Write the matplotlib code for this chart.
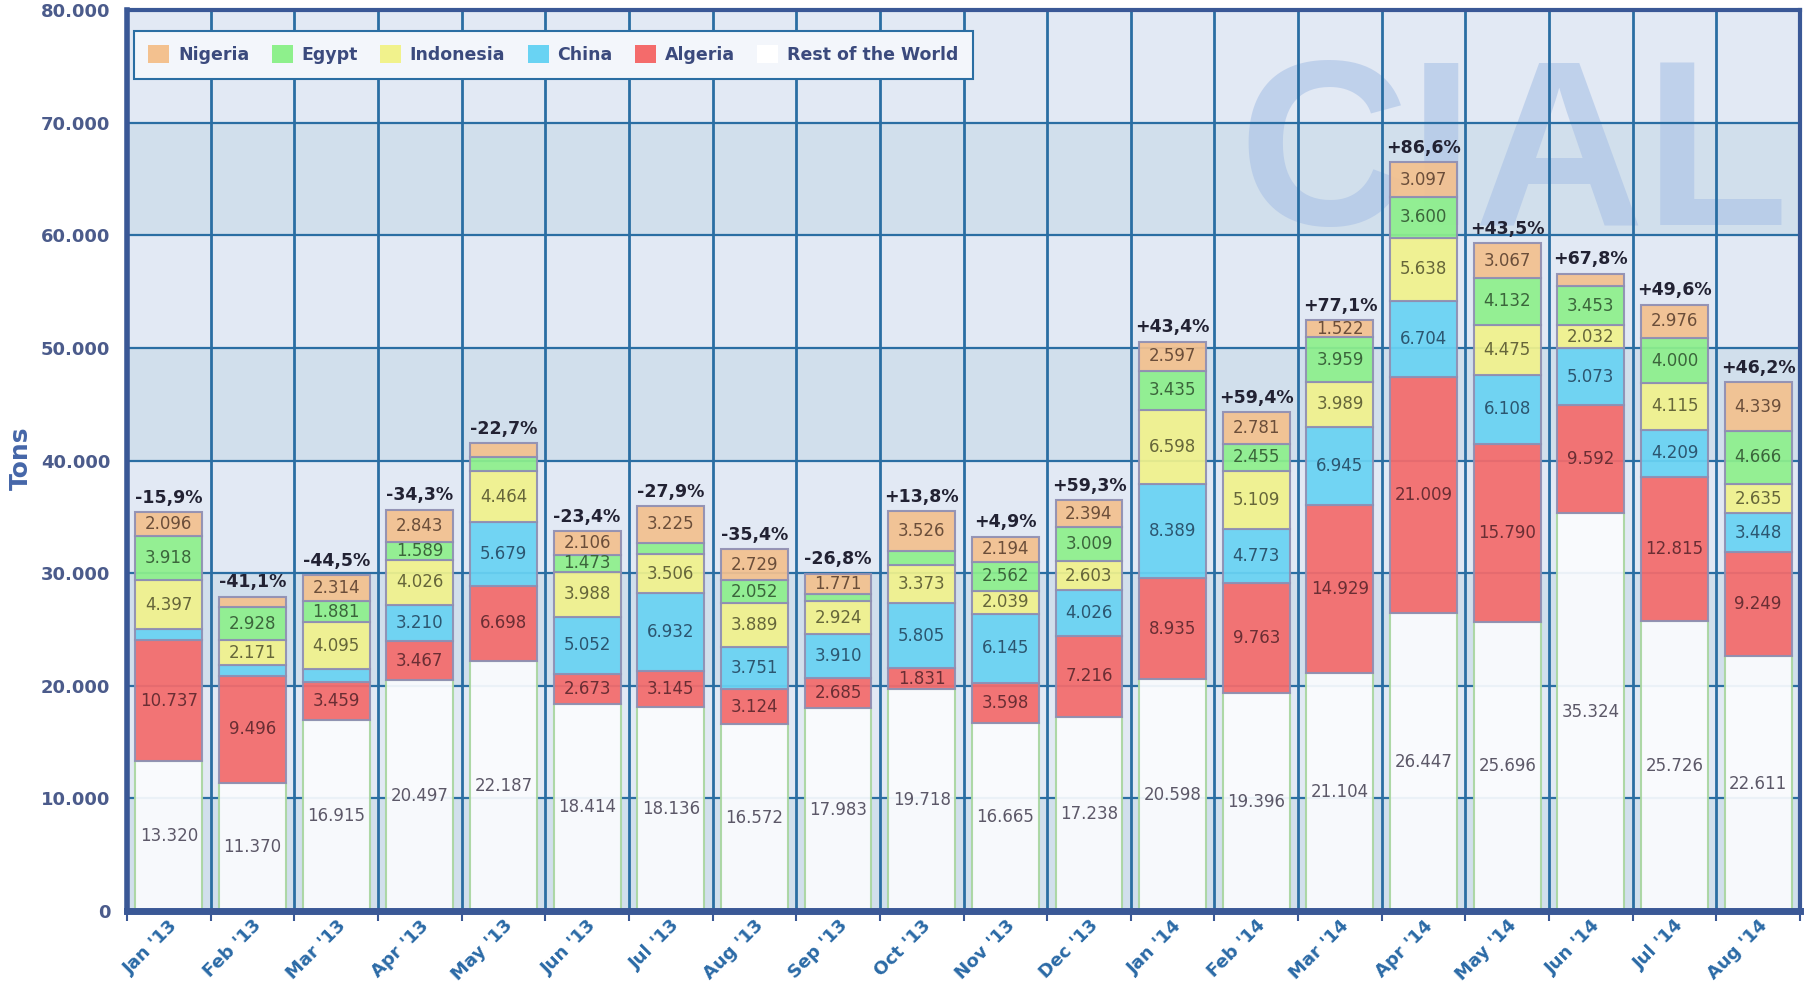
import numpy as np
import matplotlib.pyplot as plt
from matplotlib.patches import Patch
from matplotlib.ticker import FuncFormatter

months = ["Jan '13", "Feb '13", "Mar '13", "Apr '13", "May '13", "Jun '13", "Jul '13",
          "Aug '13", "Sep '13", "Oct '13", "Nov '13", "Dec '13", "Jan '14", "Feb '14",
          "Mar '14", "Apr '14", "May '14", "Jun '14", "Jul '14", "Aug '14"]

rest = [13320, 11370, 16915, 20497, 22187, 18414, 18136, 16572, 17983, 19718,
        16665, 17238, 20598, 19396, 21104, 26447, 25696, 35324, 25726, 22611]
algeria = [10737, 9496, 3459, 3467, 6698, 2673, 3145, 3124, 2685, 1831,
           3598, 7216, 8935, 9763, 14929, 21009, 15790, 9592, 12815, 9249]
china = [950, 1000, 1150, 3210, 5679, 5052, 6932, 3751, 3910, 5805,
         6145, 4026, 8389, 4773, 6945, 6704, 6108, 5073, 4209, 3448]
indonesia = [4397, 2171, 4095, 4026, 4464, 3988, 3506, 3889, 2924, 3373,
             2039, 2603, 6598, 5109, 3989, 5638, 4475, 2032, 4115, 2635]
egypt = [3918, 2928, 1881, 1589, 1300, 1473, 1000, 2052, 650, 1250,
         2562, 3009, 3435, 2455, 3959, 3600, 4132, 3453, 4000, 4666]
nigeria = [2096, 950, 2314, 2843, 1200, 2106, 3225, 2729, 1771, 3526,
           2194, 2394, 2597, 2781, 1522, 3097, 3067, 1100, 2976, 4339]
changes = ["-15,9%", "-41,1%", "-44,5%", "-34,3%", "-22,7%", "-23,4%", "-27,9%",
           "-35,4%", "-26,8%", "+13,8%", "+4,9%", "+59,3%", "+43,4%", "+59,4%",
           "+77,1%", "+86,6%", "+43,5%", "+67,8%", "+49,6%", "+46,2%"]

# bottom -> top
series = [
    ("Rest of the World", rest, "#fbfcfe", "#a9d6a0", "#5c5868"),
    ("Algeria", algeria, "#f46b6b", "#8f8fb3", "#6a2e34"),
    ("China", china, "#69d3f3", "#8f8fb3", "#2c5670"),
    ("Indonesia", indonesia, "#f1f28c", "#8f8fb3", "#66663a"),
    ("Egypt", egypt, "#8ef08c", "#8f8fb3", "#3b653b"),
    ("Nigeria", nigeria, "#f3c18f", "#8f8fb3", "#6b4e3a"),
]

def fmt(v):
    return f"{int(v):,}".replace(",", ".")

W, H = 1808, 984
fig = plt.figure(figsize=(W / 100, H / 100), dpi=100)
ax = fig.add_axes([127 / W, 1 - 911 / H, (1800 - 127) / W, (911 - 10) / H])

x = np.arange(len(months))
ax.set_xlim(-0.5, len(months) - 0.5)
ax.set_ylim(0, 80000)

# alternating background bands
for i in range(8):
    ax.axhspan(i * 10000, (i + 1) * 10000, color="#d1dfec" if i % 2 == 0 else "#e2e9f4",
               lw=0, zorder=0)

# watermark
ax.text(0.829, 0.761, "CIAL", transform=ax.transAxes, ha="center", va="baseline",
        fontsize=170, fontweight="bold", family=["Liberation Sans", "DejaVu Sans"],
        color="#a9c1e6", alpha=0.6, zorder=0.5)

grid_c = "#2a6ea3"
for yv in range(10000, 80000, 10000):
    ax.axhline(yv, color=grid_c, lw=1.6, zorder=1)
for xb in np.arange(0.5, len(months) - 0.5, 1):
    ax.axvline(xb, color=grid_c, lw=2, zorder=1)

bottom = np.zeros(len(months))
for name, vals, fc, ec, tc in series:
    vals = np.array(vals, dtype=float)
    ax.bar(x, vals, width=0.8, bottom=bottom, color=fc, edgecolor=ec, lw=1.5,
           alpha=0.93, zorder=2)
    for i, v in enumerate(vals):
        if v > 1400:
            ax.text(x[i], bottom[i] + v / 2, fmt(v), ha="center", va="center",
                    fontsize=12, color=tc, zorder=4)
    bottom += vals

for i, t in enumerate(bottom):
    ax.annotate(changes[i], (x[i], t), xytext=(0, 4), textcoords="offset points",
                ha="center", va="bottom", fontsize=12.5, fontweight="bold",
                color="#222233", zorder=5)

# axes styling
ax.set_xticks(x)
ax.set_xticklabels(months, rotation=45, ha="right", rotation_mode="anchor",
                   fontsize=13, fontweight="bold", color="#2b6aa6")
ax.set_xticks(np.arange(-0.5, len(months), 1), minor=True)
ax.tick_params(axis="x", which="major", length=0, pad=4)
ax.tick_params(axis="x", which="minor", length=7, width=1.5, color="#3a5896")
ax.yaxis.set_major_formatter(FuncFormatter(lambda v, p: fmt(v)))
ax.set_yticks(range(0, 80001, 10000))
ax.tick_params(axis="y", length=0, pad=12, labelsize=13, labelcolor="#4b5b8b")
for lab in ax.get_yticklabels():
    lab.set_fontweight("bold")

for side, lw in [("left", 4), ("bottom", 5), ("top", 3), ("right", 3)]:
    ax.spines[side].set_color("#3a5896")
    ax.spines[side].set_linewidth(lw)
    ax.spines[side].set_zorder(6)

fig.text(21 / W, 1 - 458 / H, "Tons", rotation=90, ha="center", va="center",
         fontsize=18, fontweight="bold", color="#4566a8")

handles = [Patch(facecolor=fc, edgecolor="none", label=name) for name, _, fc, _, _ in series[::-1]]
handles[-1] = Patch(facecolor="#ffffff", edgecolor="none", label="Rest of the World")
leg = ax.legend(handles=handles, loc="upper left", bbox_to_anchor=(0.004, 0.977),
                ncol=6, borderaxespad=0, fancybox=False, framealpha=1,
                handlelength=1.2, handleheight=1.2, handletextpad=0.5,
                columnspacing=1.3, borderpad=0.85,
                prop={"size": 12.5, "weight": "bold"}, labelcolor="#3b4a7d")
leg.get_frame().set_facecolor("#f3f6fb")
leg.get_frame().set_edgecolor(grid_c)
leg.get_frame().set_linewidth(1.5)
leg.set_zorder(7)

fig.savefig("out.png", dpi=100)
